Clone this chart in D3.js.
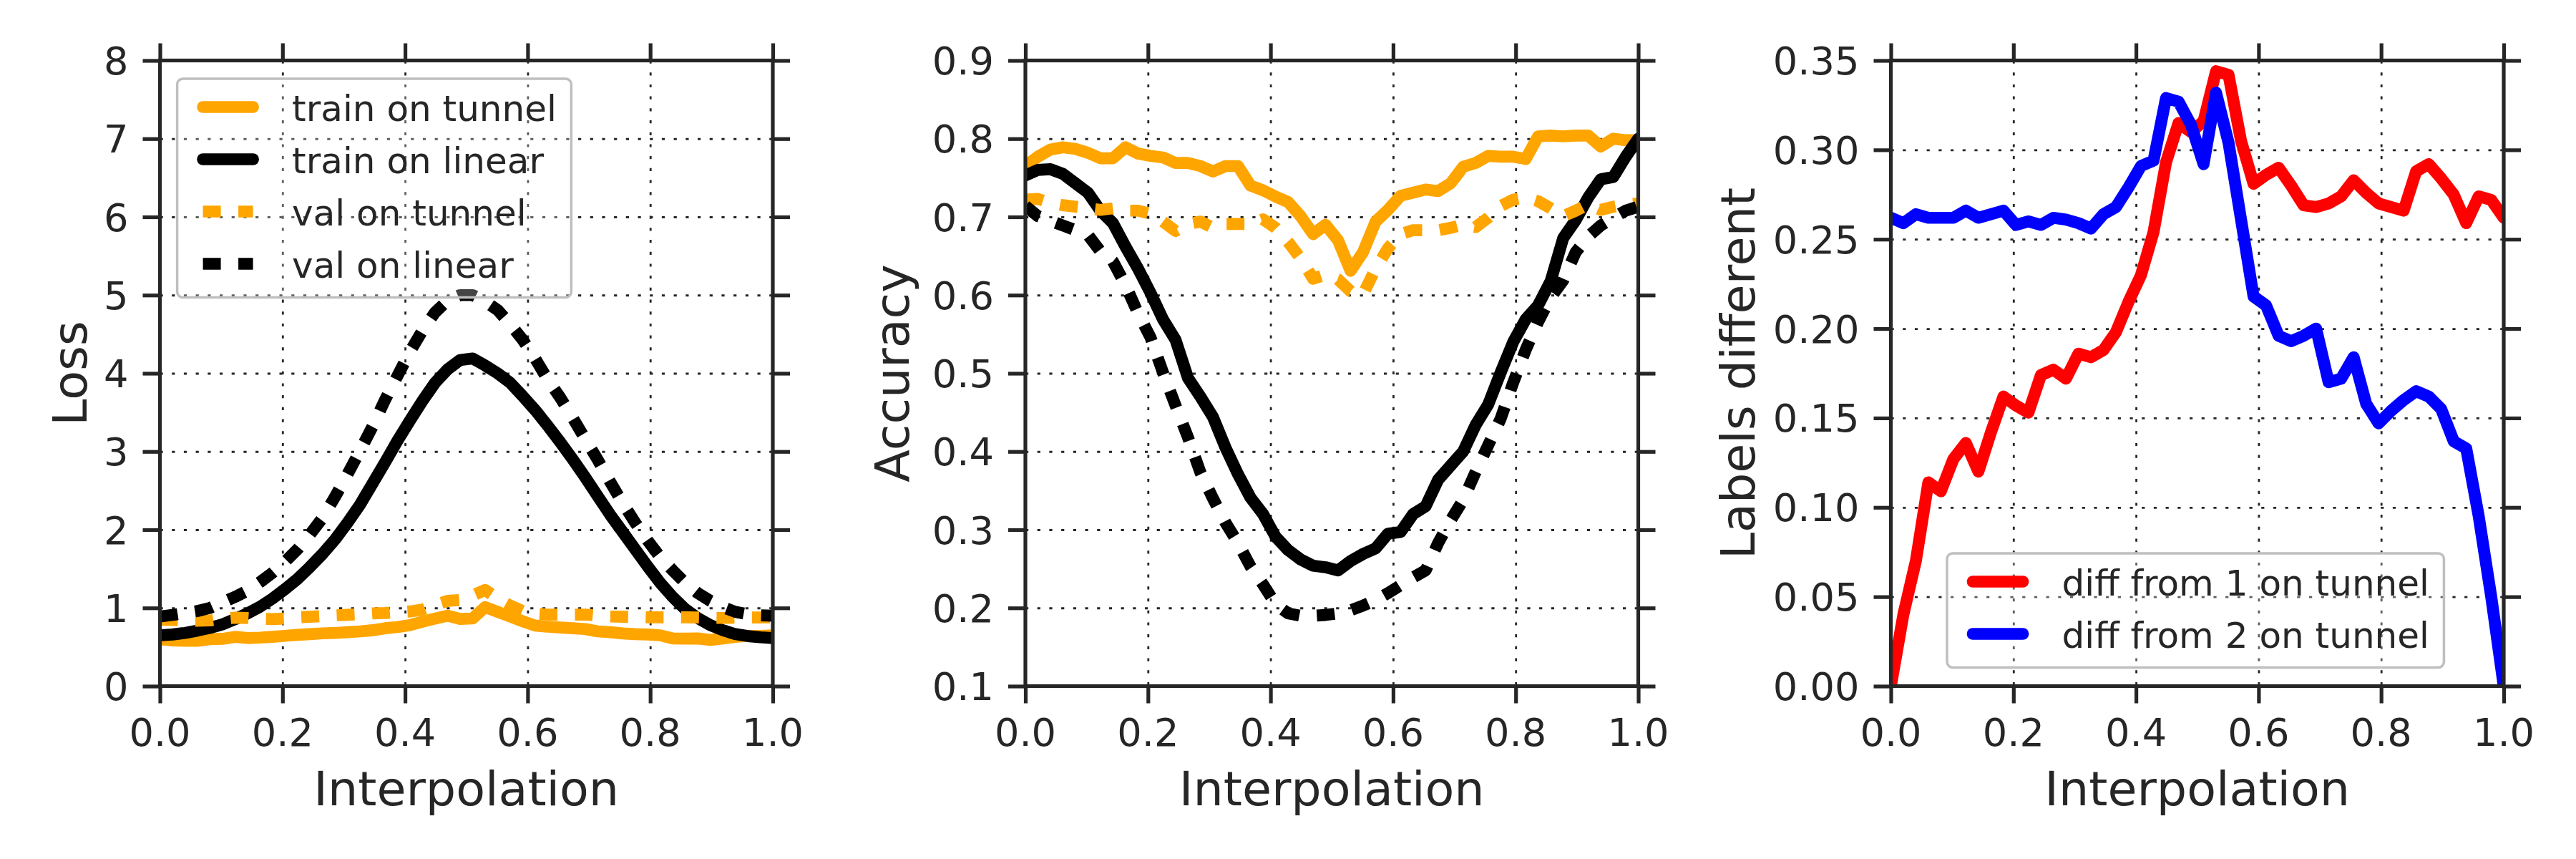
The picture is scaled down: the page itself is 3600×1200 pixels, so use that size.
<!DOCTYPE html>
<html>
<head>
<meta charset="utf-8">
<script src="https://cdn.jsdelivr.net/npm/d3@7"></script>
<style>
  body { margin: 0; background: #fff; }
  svg { display: block; font-family: "DejaVu Sans", sans-serif; }
</style>
</head>
<body>
<div id="chart-container"></div>
<script>
/* CONSTANTS AND GLOBALS */
const width = 3600,
  height = 1200,
  margin = { top: 84.5, left: 223.5 },
  innerWidth = 856.5,
  innerHeight = 874,
  panelStep = 1209.5,
  textColor = "#262626",
  lineWidth = 16.7,
  dotDash = "25 24.5",
  tickFont = 54.2
  ;

/* DATA */
// interpolation coefficient, 50 samples from 0 to 1
const interp = [0, 0.0204, 0.0408, 0.0612, 0.0816, 0.1020, 0.1224, 0.1429, 0.1633, 0.1837,
  0.2041, 0.2245, 0.2449, 0.2653, 0.2857, 0.3061, 0.3265, 0.3469, 0.3673, 0.3878,
  0.4082, 0.4286, 0.4490, 0.4694, 0.4898, 0.5102, 0.5306, 0.5510, 0.5714, 0.5918,
  0.6122, 0.6327, 0.6531, 0.6735, 0.6939, 0.7143, 0.7347, 0.7551, 0.7755, 0.7959,
  0.8163, 0.8367, 0.8571, 0.8776, 0.8980, 0.9184, 0.9388, 0.9592, 0.9796, 1];

const xTicks = [0, 0.2, 0.4, 0.6, 0.8, 1.0];
const lossTicks = [0, 1, 2, 3, 4, 5, 6, 7, 8];
const accTicks = [0.1, 0.2, 0.3, 0.4, 0.5, 0.6, 0.7, 0.8, 0.9];
const diffTicks = [0, 0.05, 0.10, 0.15, 0.20, 0.25, 0.30, 0.35];

const lossLabels = ["train on tunnel", "train on linear", "val on tunnel", "val on linear"];
const diffLabels = ["diff from 1 on tunnel", "diff from 2 on tunnel"];

// loss panel
const lossTrainTunnel = [0.60, 0.585, 0.58, 0.58, 0.60, 0.605, 0.63, 0.615, 0.62, 0.63,
  0.643, 0.655, 0.665, 0.675, 0.68, 0.69, 0.70, 0.715, 0.74, 0.755,
  0.78, 0.825, 0.863, 0.90, 0.86, 0.865, 1.01, 0.95, 0.89, 0.83,
  0.775, 0.76, 0.75, 0.74, 0.73, 0.70, 0.69, 0.674, 0.665, 0.66,
  0.65, 0.61, 0.607, 0.61, 0.59, 0.61, 0.63, 0.643, 0.643, 0.65];
const lossTrainLinear = [0.65, 0.66, 0.68, 0.71, 0.745, 0.79, 0.855, 0.93, 1.015, 1.12,
  1.24, 1.37, 1.525, 1.69, 1.875, 2.09, 2.32, 2.59, 2.86, 3.14,
  3.40, 3.65, 3.88, 4.05, 4.17, 4.19, 4.10, 4.00, 3.88, 3.71,
  3.53, 3.33, 3.12, 2.90, 2.67, 2.43, 2.19, 1.97, 1.75, 1.53,
  1.32, 1.14, 0.985, 0.87, 0.78, 0.715, 0.665, 0.64, 0.625, 0.615];
const lossValTunnel = [0.85, 0.845, 0.84, 0.835, 0.84, 0.86, 0.875, 0.87, 0.86, 0.857,
  0.865, 0.88, 0.887, 0.895, 0.905, 0.912, 0.92, 0.93, 0.935, 0.945,
  0.955, 0.98, 1.04, 1.09, 1.10, 1.16, 1.23, 1.12, 1.03, 0.96,
  0.925, 0.915, 0.915, 0.915, 0.915, 0.90, 0.89, 0.887, 0.885, 0.88,
  0.88, 0.88, 0.88, 0.878, 0.875, 0.872, 0.875, 0.878, 0.878, 0.88];
const lossValLinear = [0.89, 0.91, 0.935, 0.96, 1.00, 1.07, 1.14, 1.22, 1.33, 1.45,
  1.59, 1.75, 1.94, 2.15, 2.42, 2.71, 3.01, 3.32, 3.66, 3.97,
  4.28, 4.55, 4.78, 4.93, 5.00, 5.00, 4.92, 4.81, 4.63, 4.43,
  4.19, 3.92, 3.69, 3.43, 3.16, 2.895, 2.61, 2.34, 2.09, 1.86,
  1.65, 1.48, 1.32, 1.19, 1.09, 1.01, 0.95, 0.92, 0.905, 0.90];

// accuracy panel
const accTrainTunnel = [0.765, 0.777, 0.786, 0.789, 0.787, 0.782, 0.775, 0.775, 0.789, 0.781,
  0.778, 0.776, 0.769, 0.769, 0.765, 0.758, 0.765, 0.765, 0.740, 0.734,
  0.726, 0.719, 0.701, 0.678, 0.690, 0.670, 0.631, 0.655, 0.694, 0.709,
  0.727, 0.731, 0.735, 0.733, 0.743, 0.764, 0.769, 0.778, 0.777, 0.777,
  0.774, 0.803, 0.804, 0.803, 0.804, 0.804, 0.790, 0.800, 0.798, 0.798];
const accTrainLinear = [0.753, 0.760, 0.761, 0.755, 0.743, 0.731, 0.708, 0.692, 0.662, 0.634,
  0.603, 0.569, 0.543, 0.494, 0.470, 0.444, 0.405, 0.371, 0.341, 0.320,
  0.291, 0.274, 0.262, 0.254, 0.252, 0.248, 0.260, 0.269, 0.276, 0.295,
  0.297, 0.320, 0.330, 0.364, 0.382, 0.400, 0.434, 0.460, 0.501, 0.540,
  0.569, 0.587, 0.618, 0.673, 0.696, 0.725, 0.748, 0.751, 0.777, 0.800];
const accValTunnel = [0.722, 0.723, 0.718, 0.715, 0.713, 0.711, 0.709, 0.711, 0.708, 0.708,
  0.704, 0.694, 0.682, 0.691, 0.694, 0.686, 0.691, 0.691, 0.691, 0.697,
  0.686, 0.668, 0.647, 0.621, 0.626, 0.620, 0.605, 0.601, 0.634, 0.660,
  0.678, 0.683, 0.683, 0.683, 0.686, 0.690, 0.687, 0.699, 0.714, 0.722,
  0.725, 0.720, 0.711, 0.701, 0.708, 0.716, 0.709, 0.713, 0.716, 0.717];
const accValLinear = [0.714, 0.701, 0.695, 0.689, 0.683, 0.677, 0.656, 0.643, 0.613, 0.577,
  0.546, 0.501, 0.459, 0.418, 0.373, 0.340, 0.309, 0.283, 0.253, 0.230,
  0.205, 0.193, 0.190, 0.190, 0.191, 0.193, 0.197, 0.203, 0.210, 0.219,
  0.229, 0.239, 0.248, 0.283, 0.312, 0.338, 0.374, 0.408, 0.442, 0.488,
  0.530, 0.566, 0.597, 0.619, 0.655, 0.675, 0.689, 0.699, 0.708, 0.713];

// labels different panel
const diffFrom1 = [0.000, 0.040, 0.070, 0.114, 0.109, 0.127, 0.136, 0.120, 0.142, 0.162,
  0.157, 0.153, 0.174, 0.177, 0.172, 0.186, 0.184, 0.188, 0.198, 0.215,
  0.230, 0.254, 0.293, 0.315, 0.310, 0.316, 0.344, 0.342, 0.305, 0.281,
  0.286, 0.290, 0.280, 0.269, 0.268, 0.270, 0.274, 0.283, 0.276, 0.270,
  0.268, 0.266, 0.288, 0.292, 0.284, 0.275, 0.259, 0.274, 0.272, 0.262];
const diffFrom2 = [0.262, 0.259, 0.264, 0.262, 0.262, 0.262, 0.266, 0.262, 0.264, 0.266,
  0.258, 0.260, 0.258, 0.262, 0.261, 0.259, 0.256, 0.264, 0.268, 0.279,
  0.291, 0.294, 0.329, 0.327, 0.314, 0.292, 0.332, 0.304, 0.261, 0.218,
  0.213, 0.196, 0.193, 0.196, 0.200, 0.170, 0.172, 0.184, 0.158, 0.147,
  0.154, 0.160, 0.165, 0.162, 0.155, 0.137, 0.133, 0.095, 0.050, 0.000];

/* PANEL SETUP */
const panels = [
  {
    yLabel: "Loss", yLabelX: -102.5, yDomain: [0, 8], yTicks: lossTicks, yFormat: d3.format("d"),
    series: [
      { label: lossLabels[0], values: lossTrainTunnel, color: "orange", dotted: false },
      { label: lossLabels[1], values: lossTrainLinear, color: "black", dotted: false },
      { label: lossLabels[2], values: lossValTunnel, color: "orange", dotted: true },
      { label: lossLabels[3], values: lossValLinear, color: "black", dotted: true }
    ],
    legend: { x: 24.1, y: 25.5 }
  },
  {
    yLabel: "Accuracy", yLabelX: -163, yDomain: [0.1, 0.9], yTicks: accTicks, yFormat: d3.format(".1f"),
    series: [
      { values: accTrainTunnel, color: "orange", dotted: false },
      { values: accTrainLinear, color: "black", dotted: false },
      { values: accValTunnel, color: "orange", dotted: true },
      { values: accValLinear, color: "black", dotted: true }
    ],
    legend: null
  },
  {
    yLabel: "Labels different", yLabelX: -191, yDomain: [0, 0.35], yTicks: diffTicks, yFormat: d3.format(".2f"),
    series: [
      { label: diffLabels[0], values: diffFrom1, color: "red", dotted: false },
      { label: diffLabels[1], values: diffFrom2, color: "blue", dotted: false }
    ],
    legend: { x: 78.5, y: 688.5 }
  }
];

/* CREATE SVG ELEMENT */
const svg = d3.select("#chart-container")
  .append("svg")
  .attr("width", width)
  .attr("height", height);

svg.append("rect")
  .attr("width", width)
  .attr("height", height)
  .attr("fill", "#fff");

panels.forEach(drawPanel);

/* DRAW FUNCTION */
function drawPanel(p, i) {
  const x = d3.scaleLinear().domain([0, 1]).range([0, innerWidth]);
  const y = d3.scaleLinear().domain(p.yDomain).range([innerHeight, 0]);

  const g = svg.append("g")
    .attr("transform", `translate(${margin.left + i * panelStep}, ${margin.top})`);

  // + GRID (dotted, under the lines)
  const styleGrid = sel => {
    sel.select(".domain").remove();
    sel.selectAll("text").remove(); // grid has no labels
    sel.selectAll("line")
      .attr("stroke", textColor)
      .attr("stroke-width", 2.8)
      .attr("stroke-dasharray", "4.2 12.5");
  };
  g.append("g")
    .call(d3.axisBottom(x).tickValues(xTicks).tickSize(innerHeight))
    .call(styleGrid);
  g.append("g")
    .call(d3.axisRight(y).tickValues(p.yTicks).tickSize(innerWidth))
    .call(styleGrid);

  // + LINES
  g.append("clipPath")
    .attr("id", `clip-${i}`)
    .append("rect")
    .attr("width", innerWidth)
    .attr("height", innerHeight);

  const lineGen = d3.line()
    .x((d, j) => x(interp[j]))
    .y(d => y(d));

  g.append("g")
    .attr("clip-path", `url(#clip-${i})`)
    .selectAll("path")
    .data(p.series)
    .join("path")
    .attr("d", d => lineGen(d.values))
    .attr("fill", "none")
    .attr("stroke", d => d.color)
    .attr("stroke-width", lineWidth)
    .attr("stroke-linejoin", "round")
    .attr("stroke-linecap", d => d.dotted ? "butt" : "round")
    .attr("stroke-dasharray", d => d.dotted ? dotDash : null);

  // + AXES (tick marks outward on all four sides, labels drawn separately)
  const styleTicks = sel => {
    sel.select(".domain").remove();
    sel.selectAll("text").remove();
    sel.selectAll("line").attr("stroke", textColor).attr("stroke-width", 5.2);
  };
  g.append("g")
    .attr("transform", `translate(0, ${innerHeight})`)
    .call(d3.axisBottom(x).tickValues(xTicks).tickSize(24))
    .call(styleTicks);
  g.append("g")
    .call(d3.axisTop(x).tickValues(xTicks).tickSize(24))
    .call(styleTicks);
  g.append("g")
    .call(d3.axisLeft(y).tickValues(p.yTicks).tickSize(24))
    .call(styleTicks);
  g.append("g")
    .attr("transform", `translate(${innerWidth}, 0)`)
    .call(d3.axisRight(y).tickValues(p.yTicks).tickSize(24))
    .call(styleTicks);

  // tick labels
  const xFormat = d3.format(".1f");
  g.append("g")
    .attr("class", "x-labels")
    .selectAll("text")
    .data(xTicks)
    .join("text")
    .attr("x", d => x(d))
    .attr("y", innerHeight + 83)
    .attr("text-anchor", "middle")
    .attr("font-size", tickFont)
    .attr("fill", textColor)
    .text(d => xFormat(d));

  g.append("g")
    .attr("class", "y-labels")
    .selectAll("text")
    .data(p.yTicks)
    .join("text")
    .attr("x", -44)
    .attr("y", d => y(d) + tickFont * 0.36)
    .attr("text-anchor", "end")
    .attr("font-size", tickFont)
    .attr("fill", textColor)
    .text(d => p.yFormat(d));

  // spines
  g.append("rect")
    .attr("width", innerWidth)
    .attr("height", innerHeight)
    .attr("fill", "none")
    .attr("stroke", textColor)
    .attr("stroke-width", 5.2);

  // + AXIS LABELS
  g.append("text")
    .attr("x", innerWidth / 2)
    .attr("y", innerHeight + 166)
    .attr("text-anchor", "middle")
    .attr("fill", textColor)
    .attr("font-size", 66.7)
    .text("Interpolation");

  g.append("text")
    .attr("transform", `translate(${p.yLabelX}, ${innerHeight / 2}) rotate(-90)`)
    .attr("text-anchor", "middle")
    .attr("fill", textColor)
    .attr("font-size", 66.7)
    .text(p.yLabel);

  // + LEGEND
  if (p.legend) {
    const rowGap = 73,
      items = p.series.filter(d => d.label);
    const lg = g.append("g")
      .attr("transform", `translate(${p.legend.x}, ${p.legend.y})`);

    const box = lg.append("rect")
      .attr("rx", 8)
      .attr("height", 39.5 + (items.length - 1) * rowGap + 47)
      .attr("fill", "#fff")
      .attr("fill-opacity", 0.27)
      .attr("stroke", "#bfbfbf")
      .attr("stroke-width", 3.5);

    const row = lg.selectAll(".legend-row")
      .data(items)
      .join("g")
      .attr("class", "legend-row")
      .attr("transform", (d, j) => `translate(0, ${39.5 + j * rowGap})`);

    row.append("line")
      .attr("x1", 36)
      .attr("x2", 106)
      .attr("stroke", d => d.color)
      .attr("stroke-width", lineWidth)
      .attr("stroke-linecap", d => d.dotted ? "butt" : "round")
      .attr("stroke-dasharray", d => d.dotted ? dotDash : null);

    const labels = row.append("text")
      .attr("x", 160.5)
      .attr("y", 19)
      .attr("fill", textColor)
      .attr("font-size", 50)
      .text(d => d.label);

    const maxLen = d3.max(labels.nodes(), n => n.getComputedTextLength());
    box.attr("width", 160.5 + maxLen + 20.5);
  }
}
</script>
</body>
</html>
